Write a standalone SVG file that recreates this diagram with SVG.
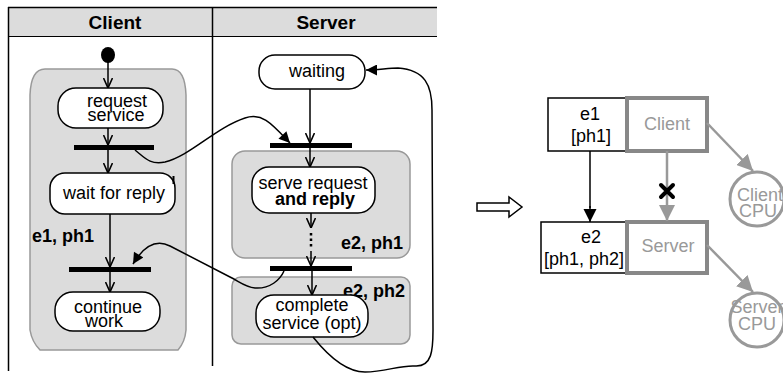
<svg xmlns="http://www.w3.org/2000/svg" width="783" height="375" viewBox="0 0 783 375">
  <style>
    text { font-family: "Liberation Sans", Arial, sans-serif; fill: #000; }
    .hdr { font-size: 19px; font-weight: bold; text-anchor: middle; }
    .act { font-size: 18px; text-anchor: middle; }
    .lbl { font-size: 18px; font-weight: bold; }
    .lane { fill: #dcdcdc; stroke: #999; stroke-width: 1.5; }
    .node { fill: #fff; stroke: #000; stroke-width: 1.5; }
    .bar { fill: #000; }
    .edge { fill: none; stroke: #000; stroke-width: 1.5; }
    .open { marker-end: url(#open); }
    .solid { marker-end: url(#solid); }
    .box { fill: #fff; stroke: #000; stroke-width: 1.5; }
    .gbox { fill: #fff; stroke: #888; stroke-width: 4; }
    .gtxt { font-size: 18px; text-anchor: middle; fill: #999; }
    .btxt { font-size: 18px; text-anchor: middle; }
    .gedge { fill: none; stroke: #999; stroke-width: 2.5; }
    .cpu { fill: #fff; stroke: #999; stroke-width: 3; }
  </style>
  <defs>
    <marker id="open" viewBox="0 0 10 10" refX="10" refY="5" markerWidth="10" markerHeight="10" markerUnits="userSpaceOnUse" orient="auto">
      <path d="M0,0.5 L10,5 L0,9.5" fill="none" stroke="#000" stroke-width="1.6"/>
    </marker>
    <marker id="solid" viewBox="0 0 10 10" refX="10" refY="5" markerWidth="13" markerHeight="11" markerUnits="userSpaceOnUse" orient="auto">
      <path d="M0,0 L10,5 L0,10 Z" fill="#000"/>
    </marker>
    <marker id="solidBig" viewBox="0 0 10 10" refX="10" refY="5" markerWidth="13" markerHeight="16" markerUnits="userSpaceOnUse" orient="auto">
      <path d="M0,0 L10,5 L0,10 Z" fill="#000"/>
    </marker>
    <marker id="gsolid" viewBox="0 0 10 10" refX="10" refY="5" markerWidth="16" markerHeight="16" markerUnits="userSpaceOnUse" orient="auto">
      <path d="M0,0 L10,5 L0,10 Z" fill="#999"/>
    </marker>
  </defs>

  <!-- swimlane frame -->
  <g id="swimlanes">
    <rect x="8" y="8" width="429" height="29" fill="#dcdcdc"/>
    <line x1="8" y1="7.5" x2="437" y2="7.5" stroke="#000" stroke-width="1.5"/>
    <line x1="8" y1="36.5" x2="437" y2="36.5" stroke="#000" stroke-width="1"/>
    <line x1="8.5" y1="7" x2="8.5" y2="371" stroke="#000" stroke-width="1.5"/>
    <line x1="212.5" y1="7" x2="212.5" y2="366" stroke="#000" stroke-width="1.5"/>
    <text class="hdr" x="115" y="29">Client</text>
    <text class="hdr" x="326" y="29">Server</text>
  </g>

  <!-- execution-phase regions -->
  <g id="client-phase">
    <path class="lane" d="M30,95 Q31,69 45,69 L172,69 Q185,69 186,95 L186,330 Q185,342 178,350 L40,350 Q32,342 30,330 Z"/>
    <text class="lbl" x="32" y="242">e1, ph1</text>
  </g>
  <g id="server-phase1">
    <rect class="lane" x="232" y="151" width="178" height="107" rx="13"/>
    <text class="lbl" x="403" y="249" text-anchor="end">e2, ph1</text>
  </g>
  <g id="server-phase2">
    <rect class="lane" x="232" y="277" width="178" height="67" rx="9"/>
    <text class="lbl" x="405" y="297" text-anchor="end">e2, ph2</text>
  </g>

  <!-- client activities -->
  <g id="start">
    <ellipse cx="108" cy="55" rx="7" ry="8" fill="#000"/>
  </g>
  <g id="request-service">
    <rect class="node" x="58" y="88" width="105" height="40" rx="18"/>
    <text class="act" x="117" y="107">request</text>
    <text class="act" x="116" y="121">service</text>
  </g>
  <g id="client-fork">
    <rect class="bar" x="74" y="145" width="80" height="5"/>
  </g>
  <g id="wait-for-reply">
    <rect class="node" x="50" y="173" width="125" height="41" rx="15"/>
    <path d="M173.5,176 L173.5,184" stroke="#000" stroke-width="2"/>
    <text class="act" x="114" y="199">wait for reply</text>
  </g>
  <g id="client-join">
    <rect class="bar" x="69" y="267" width="82" height="5"/>
  </g>
  <g id="continue-work">
    <rect class="node" x="55" y="292" width="105" height="39" rx="18"/>
    <text class="act" x="108" y="313">continue</text>
    <text class="act" x="104" y="327">work</text>
  </g>

  <!-- server activities -->
  <g id="waiting">
    <rect class="node" x="259" y="55" width="106" height="34" rx="16"/>
    <text class="act" x="317" y="77">waiting</text>
  </g>
  <g id="server-join">
    <rect class="bar" x="270" y="143" width="82" height="5"/>
  </g>
  <g id="serve-request">
    <rect class="node" x="252" y="167" width="123" height="46" rx="17"/>
    <text class="act" x="313" y="189">serve request</text>
    <text class="act" x="315" y="205" font-weight="bold">and reply</text>
  </g>
  <g id="server-fork">
    <rect class="bar" x="270" y="266" width="82" height="5"/>
  </g>
  <g id="complete-service">
    <rect class="node" x="256" y="295" width="112" height="42" rx="18"/>
    <text class="act" x="312" y="311">complete</text>
    <text class="act" x="312" y="329">service (opt)</text>
  </g>

  <!-- layered model -->
  <g id="transform-arrow">
    <polygon points="477,203 509,203 509,197 522,207 509,217 509,211 477,211" fill="#fff" stroke="#000" stroke-width="1.5"/>
  </g>
  <g id="e1">
    <rect class="box" x="548" y="98" width="79" height="53"/>
    <text class="btxt" x="590" y="120">e1</text>
    <text class="btxt" x="591" y="142">[ph1]</text>
  </g>
  <g id="client-task">
    <rect class="gbox" x="627" y="98" width="80" height="53"/>
    <text class="gtxt" x="667" y="130">Client</text>
  </g>
  <g id="e2">
    <rect class="box" x="541" y="222" width="86" height="51"/>
    <text class="btxt" x="591" y="243">e2</text>
    <text class="btxt" x="584" y="265">[ph1, ph2]</text>
  </g>
  <g id="server-task">
    <rect class="gbox" x="627" y="222" width="80" height="51"/>
    <text class="gtxt" x="668" y="252">Server</text>
  </g>
  <g id="client-cpu">
    <circle class="cpu" cx="757" cy="199" r="27"/>
    <text class="gtxt" x="760" y="201">Client</text>
    <text class="gtxt" x="758" y="217">CPU</text>
  </g>
  <g id="server-cpu">
    <circle class="cpu" cx="757" cy="320" r="27"/>
    <text class="gtxt" x="757" y="313">Server</text>
    <text class="gtxt" x="757" y="330">CPU</text>
  </g>

  <!-- connectors -->
  <g id="connectors">
    <path class="edge open" d="M108,62 L108,88"/>
    <path class="edge open" d="M108,128 L108,145"/>
    <path class="edge open" d="M108,150 L108,173"/>
    <path class="edge open" d="M110,214 L110,267"/>
    <path class="edge open" d="M110,272 L110,292"/>
    <path class="edge open" d="M310,89 L310,143"/>
    <path class="edge open" d="M310,148 L310,167"/>
    <path class="edge open" d="M311,213 L311,228"/>
    <path d="M311,233 L311,249" stroke="#000" stroke-width="2.5" stroke-dasharray="2.5,3" fill="none"/>
    <path class="edge open" d="M311,251 L311,266"/>
    <path class="edge open" d="M312,271 L312,295"/>
    <!-- request sent to server -->
    <path class="edge solid" d="M135,150 C145,158 150,165 165,162 C190,156 215,128 245,118 C262,112 272,124 290,143"/>
    <!-- reply returned to client -->
    <path class="edge solid" d="M284,271 C280,280 270,289 255,288 C245,287 240,282 230,277 L170,246 C158,240 145,244 133,264"/>
    <!-- loop back to waiting -->
    <path class="edge solid" d="M313,337 C325,352 345,372 365,372 C385,372 400,365 415,366 C432,367 433,350 433,330 L432,110 C432,85 425,70 398,68 C388,68 378,70 366,70"/>
    <!-- layered model calls -->
    <path class="edge" d="M590,151 L590,208"/>
    <path class="edge" style="marker-end:url(#solidBig)" d="M590,206 L590,222"/>
    <path class="gedge" style="marker-end:url(#gsolid)" d="M667,151 L667,221"/>
    <path d="M661,185 L673,197 M673,185 L661,197" stroke="#000" stroke-width="4" stroke-linecap="round"/>
    <path class="gedge" style="marker-end:url(#gsolid)" d="M707,123 L753,171"/>
    <path class="gedge" style="marker-end:url(#gsolid)" d="M707,245 L753,292"/>
  </g>
</svg>
